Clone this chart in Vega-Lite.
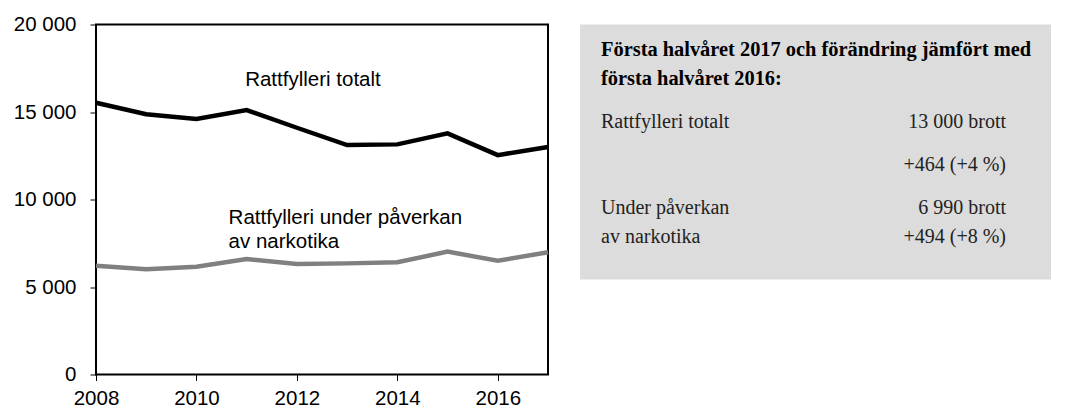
{
  "$schema": "https://vega.github.io/schema/vega-lite/v6.json",
  "padding": {"left": 5, "top": 13.5, "right": 0, "bottom": 0},
  "background": "white",
  "spacing": 32,
  "bounds": "flush",
  "config": {"font": "Liberation Sans", "view": {"stroke": null}},
  "hconcat": [
    {
      "width": 452,
      "height": 350,
      "view": {"stroke": "black", "strokeWidth": 2},
      "data": {"values": [
        {"year": 2008, "series": "Rattfylleri totalt", "value": 15530},
        {"year": 2009, "series": "Rattfylleri totalt", "value": 14870},
        {"year": 2010, "series": "Rattfylleri totalt", "value": 14600},
        {"year": 2011, "series": "Rattfylleri totalt", "value": 15110},
        {"year": 2012, "series": "Rattfylleri totalt", "value": 14100},
        {"year": 2013, "series": "Rattfylleri totalt", "value": 13110},
        {"year": 2014, "series": "Rattfylleri totalt", "value": 13150},
        {"year": 2015, "series": "Rattfylleri totalt", "value": 13780},
        {"year": 2016, "series": "Rattfylleri totalt", "value": 12536},
        {"year": 2017, "series": "Rattfylleri totalt", "value": 13000},
        {"year": 2008, "series": "Rattfylleri under påverkan av narkotika", "value": 6220},
        {"year": 2009, "series": "Rattfylleri under påverkan av narkotika", "value": 6010},
        {"year": 2010, "series": "Rattfylleri under påverkan av narkotika", "value": 6160},
        {"year": 2011, "series": "Rattfylleri under påverkan av narkotika", "value": 6600},
        {"year": 2012, "series": "Rattfylleri under påverkan av narkotika", "value": 6310},
        {"year": 2013, "series": "Rattfylleri under påverkan av narkotika", "value": 6350},
        {"year": 2014, "series": "Rattfylleri under påverkan av narkotika", "value": 6410},
        {"year": 2015, "series": "Rattfylleri under påverkan av narkotika", "value": 7020},
        {"year": 2016, "series": "Rattfylleri under påverkan av narkotika", "value": 6496},
        {"year": 2017, "series": "Rattfylleri under påverkan av narkotika", "value": 6990}
      ]},
      "layer": [
        {
          "mark": {"type": "line", "strokeWidth": 4.5},
          "encoding": {
            "x": {
              "field": "year", "type": "quantitative",
              "scale": {"domain": [2008, 2017], "nice": false, "zero": false},
              "axis": {
                "values": [2008, 2010, 2012, 2014, 2016], "format": "d",
                "grid": false, "domain": false, "tickSize": 6, "tickColor": "black", "tickWidth": 1,
                "labelFontSize": 20.5, "labelColor": "black", "labelFont": "Liberation Sans",
                "labelPadding": 8, "labelFlush": false, "title": null
              }
            },
            "y": {
              "field": "value", "type": "quantitative",
              "scale": {"domain": [0, 20000], "nice": false},
              "axis": {
                "values": [0, 5000, 10000, 15000, 20000],
                "labelExpr": "replace(format(datum.value, ',d'), ',', ' ')",
                "grid": false, "domain": false, "tickSize": 6, "tickColor": "black", "tickWidth": 1,
                "labelFontSize": 20.5, "labelColor": "black", "labelFont": "Liberation Sans",
                "labelPadding": 14, "title": null, "minExtent": 90, "maxExtent": 90
              }
            },
            "color": {
              "field": "series", "type": "nominal",
              "scale": {"domain": ["Rattfylleri totalt", "Rattfylleri under påverkan av narkotika"], "range": ["#000000", "#808080"]},
              "legend": null
            }
          }
        },
        {
          "data": {"values": [{"label": "Rattfylleri totalt"}]},
          "mark": {"type": "text", "align": "left", "baseline": "middle", "fontSize": 20.5, "font": "Liberation Sans", "color": "black"},
          "encoding": {
            "x": {"datum": 2010.97},
            "y": {"datum": 16830},
            "text": {"field": "label"}
          }
        },
        {
          "data": {"values": [{"label": ["Rattfylleri under påverkan", "av narkotika"]}]},
          "mark": {"type": "text", "align": "left", "baseline": "middle", "fontSize": 20.5, "lineHeight": 23.7, "font": "Liberation Sans", "color": "black"},
          "encoding": {
            "x": {"datum": 2010.64},
            "y": {"datum": 8943},
            "text": {"field": "label"}
          }
        }
      ]
    },
    {
      "width": 471,
      "height": 255,
      "view": {"fill": "#dcdcdc", "stroke": null},
      "data": {"values": [
        {"part": "title", "col": "left", "line": 0, "text": "Första halvåret 2017 och förändring jämfört med"},
        {"part": "title", "col": "left", "line": 2, "text": "första halvåret 2016:"},
        {"part": "label", "col": "left", "line": 5, "text": "Rattfylleri totalt"},
        {"part": "value", "col": "right", "line": 5, "text": "13 000 brott"},
        {"part": "value", "col": "right", "line": 8, "text": "+464 (+4 %)"},
        {"part": "label", "col": "left", "line": 11, "text": "Under påverkan"},
        {"part": "value", "col": "right", "line": 11, "text": "6 990 brott"},
        {"part": "label", "col": "left", "line": 13, "text": "av narkotika"},
        {"part": "value", "col": "right", "line": 13, "text": "+494 (+8 %)"}
      ]},
      "encoding": {
        "x": {"field": "col", "type": "ordinal", "scale": {"type": "point", "domain": ["left", "right"], "range": [21, 426], "padding": 0}, "axis": null},
        "y": {"field": "line", "type": "quantitative", "scale": {"domain": [-1.786, 15.96], "reverse": true, "nice": false, "zero": false}, "axis": null},
        "text": {"field": "text"}
      },
      "layer": [
        {
          "transform": [{"filter": "datum.part === 'title'"}],
          "mark": {"type": "text", "align": "left", "baseline": "middle", "fontSize": 20.4, "fontWeight": "bold", "font": "Liberation Serif", "color": "black"}
        },
        {
          "transform": [{"filter": "datum.part === 'label'"}],
          "mark": {"type": "text", "align": "left", "baseline": "middle", "fontSize": 20, "font": "Liberation Serif", "color": "#222222"}
        },
        {
          "transform": [{"filter": "datum.part === 'value'"}],
          "mark": {"type": "text", "align": "right", "baseline": "middle", "fontSize": 20, "font": "Liberation Serif", "color": "#222222"}
        }
      ]
    }
  ]
}
